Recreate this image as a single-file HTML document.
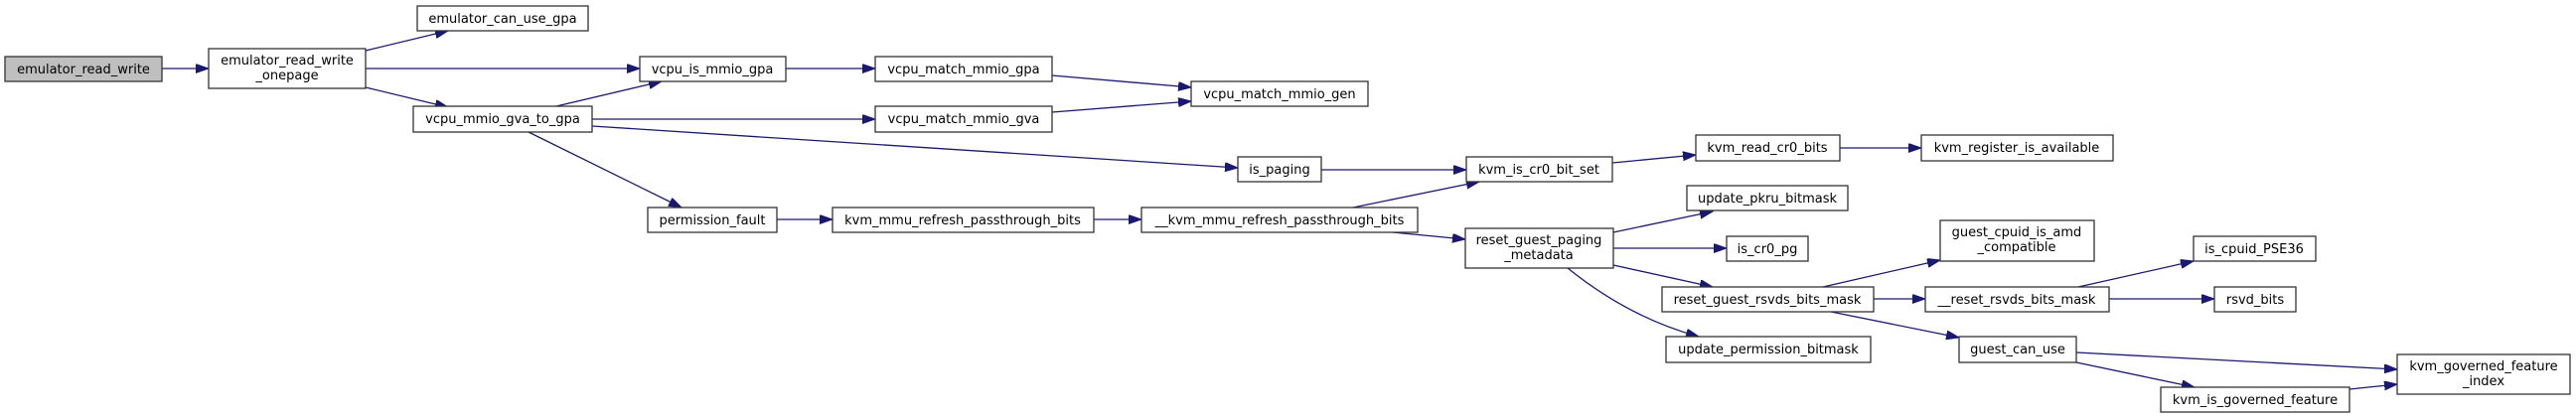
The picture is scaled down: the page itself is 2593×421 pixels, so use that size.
<!DOCTYPE html>
<html><head><meta charset="utf-8"><style>
html,body{margin:0;padding:0;background:#fff;}
svg{display:block}
text{font-family:"DejaVu Sans","Liberation Sans",sans-serif;font-size:13px;fill:#000;text-anchor:middle}
rect{fill:#fff;stroke:#333;stroke-width:1.3}
.e{stroke:#191970;stroke-width:1.3;fill:none;marker-end:url(#a)}
</style></head><body>
<svg width="2593" height="421" viewBox="0 0 2593 421" xmlns="http://www.w3.org/2000/svg">
<defs><marker id="a" markerUnits="userSpaceOnUse" markerWidth="14" markerHeight="10" refX="13" refY="4.5" orient="auto"><path d="M0,0 L13,4.5 L0,9 z" fill="#191970" stroke="#191970"/></marker></defs>
<path class="e" d="M163,69 L210,69"/>
<path class="e" d="M368,51 L451,31"/>
<path class="e" d="M368,69 L644,69"/>
<path class="e" d="M368,88 L451,108"/>
<path class="e" d="M560,107 L666,82"/>
<path class="e" d="M596,120 L881,120"/>
<path class="e" d="M596,127 L1246,169"/>
<path class="e" d="M532,133 L686,209"/>
<path class="e" d="M791,69 L881,69"/>
<path class="e" d="M1059,76 L1199,88"/>
<path class="e" d="M1059,113 L1199,102"/>
<path class="e" d="M782,221 L838,221"/>
<path class="e" d="M1101,221 L1149,221"/>
<path class="e" d="M1362,209 L1489,183"/>
<path class="e" d="M1402,234 L1475,241"/>
<path class="e" d="M1330,171 L1476,171"/>
<path class="e" d="M1623,164 L1707,156"/>
<path class="e" d="M1852,149 L1934,149"/>
<path class="e" d="M1624,234 L1724,213"/>
<path class="e" d="M1624,250 L1738,250"/>
<path class="e" d="M1624,267 L1724,289"/>
<path class="e" d="M1578,270 Q1640,320 1710,339"/>
<path class="e" d="M1835,289 L1953,262"/>
<path class="e" d="M1886,301 L1938,301"/>
<path class="e" d="M1843,314 L1972,340"/>
<path class="e" d="M2092,289 L2208,263"/>
<path class="e" d="M2123,301 L2229,301"/>
<path class="e" d="M2090,355 L2413,372"/>
<path class="e" d="M2090,365 L2209,390"/>
<path class="e" d="M2365,392 L2413,387"/>
<rect x="5" y="57" width="158" height="25" style="fill:#bfbfbf"/><text x="84" y="74">emulator_read_write</text>
<rect x="210" y="49" width="158" height="40"/><text x="289" y="65">emulator_read_write</text><text x="289" y="80">_onepage</text>
<rect x="420" y="6" width="172" height="25"/><text x="506" y="23">emulator_can_use_gpa</text>
<rect x="644" y="57" width="147" height="25"/><text x="717" y="74">vcpu_is_mmio_gpa</text>
<rect x="416" y="107" width="180" height="26"/><text x="506" y="124">vcpu_mmio_gva_to_gpa</text>
<rect x="652" y="209" width="130" height="25"/><text x="717" y="226">permission_fault</text>
<rect x="881" y="57" width="178" height="25"/><text x="970" y="74">vcpu_match_mmio_gpa</text>
<rect x="881" y="107" width="178" height="26"/><text x="970" y="124">vcpu_match_mmio_gva</text>
<rect x="1199" y="82" width="178" height="25"/><text x="1288" y="99">vcpu_match_mmio_gen</text>
<rect x="1246" y="158" width="84" height="25"/><text x="1288" y="175">is_paging</text>
<rect x="1476" y="158" width="147" height="25"/><text x="1549" y="175">kvm_is_cr0_bit_set</text>
<rect x="838" y="209" width="263" height="25"/><text x="969" y="226">kvm_mmu_refresh_passthrough_bits</text>
<rect x="1149" y="209" width="278" height="25"/><text x="1288" y="226">__kvm_mmu_refresh_passthrough_bits</text>
<rect x="1475" y="230" width="149" height="40"/><text x="1549" y="246">reset_guest_paging</text><text x="1549" y="261">_metadata</text>
<rect x="1707" y="136" width="145" height="26"/><text x="1779" y="153">kvm_read_cr0_bits</text>
<rect x="1934" y="136" width="193" height="26"/><text x="2030" y="153">kvm_register_is_available</text>
<rect x="1698" y="187" width="162" height="25"/><text x="1779" y="204">update_pkru_bitmask</text>
<rect x="1738" y="238" width="82" height="25"/><text x="1779" y="255">is_cr0_pg</text>
<rect x="1673" y="289" width="213" height="25"/><text x="1779" y="306">reset_guest_rsvds_bits_mask</text>
<rect x="1677" y="339" width="206" height="26"/><text x="1780" y="356">update_permission_bitmask</text>
<rect x="1953" y="222" width="155" height="41"/><text x="2030" y="238">guest_cpuid_is_amd</text><text x="2030" y="253">_compatible</text>
<rect x="2208" y="238" width="123" height="25"/><text x="2269" y="255">is_cpuid_PSE36</text>
<rect x="1938" y="289" width="185" height="25"/><text x="2030" y="306">__reset_rsvds_bits_mask</text>
<rect x="2229" y="289" width="82" height="25"/><text x="2270" y="306">rsvd_bits</text>
<rect x="1972" y="339" width="118" height="26"/><text x="2031" y="356">guest_can_use</text>
<rect x="2413" y="357" width="174" height="40"/><text x="2500" y="373">kvm_governed_feature</text><text x="2500" y="388">_index</text>
<rect x="2175" y="390" width="190" height="25"/><text x="2270" y="407">kvm_is_governed_feature</text>
</svg>
</body></html>
